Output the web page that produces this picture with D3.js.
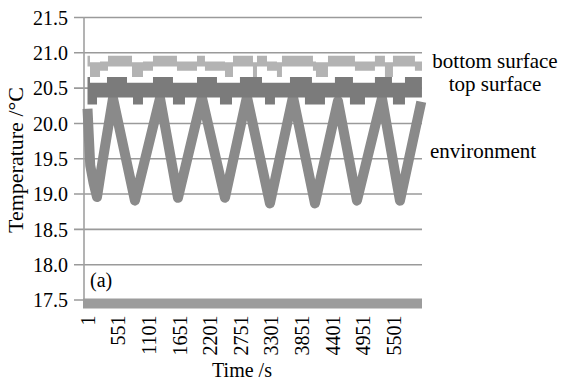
<html lang="en">
<head>
<meta charset="utf-8">
<title>Temperature</title>
<style>
    body { margin: 0; background-color: white; }
    svg { background-color: white; display: block; }
    text { font-family: "Liberation Serif", "Times New Roman", serif; fill: #000; }
    .axis text { font-size: 20px; }
    .axis path, .axis line { fill: none; }
    .label { font-size: 21px; }
</style>
</head>
<body>
<script src="https://cdnjs.cloudflare.com/ajax/libs/d3/7.8.5/d3.min.js"></script>
<script>
    // tick labels
    var yTicks = [17.5, 18.0, 18.5, 19.0, 19.5, 20.0, 20.5, 21.0, 21.5];
    var xTicks = [1, 551, 1101, 1651, 2201, 2751, 3301, 3851, 4401, 4951, 5501];

    // environment (time s, temperature)
    var envT = [1, 50, 110, 172, 260, 459, 854, 1304, 1627, 2058, 2472, 2867, 3280, 3694, 4089, 4502, 4844, 5293, 5617, 6000];
    var envV = [20.2, 19.4, 19.15, 18.95, 19.4, 20.35, 18.9, 20.35, 18.94, 20.36, 18.94, 20.37, 18.86, 20.37, 18.86, 20.31, 18.9, 20.35, 18.9, 20.3];

    // top surface, stepped band (upper / lower edge)
    var topT  = [1, 46, 172, 351, 711, 819, 998, 1178, 1537, 1753, 1969, 2328, 2382, 2598, 2741, 3137, 3191, 3370, 3640, 3909, 4035, 4269, 4448, 4718, 4772, 4988, 5167, 5473, 5491, 5707, 6012];
    var topHi = [20.65, 20.57, 20.57, 20.65, 20.57, 20.57, 20.57, 20.65, 20.57, 20.57, 20.65, 20.57, 20.57, 20.57, 20.65, 20.57, 20.57, 20.57, 20.65, 20.65, 20.57, 20.57, 20.65, 20.65, 20.57, 20.57, 20.65, 20.57, 20.57, 20.65, 20.65];
    var topLo = [20.26, 20.26, 20.36, 20.36, 20.36, 20.26, 20.36, 20.36, 20.26, 20.36, 20.36, 20.36, 20.26, 20.36, 20.36, 20.36, 20.26, 20.36, 20.36, 20.26, 20.26, 20.36, 20.36, 20.26, 20.26, 20.36, 20.36, 20.36, 20.26, 20.36, 20.36];

    // bottom surface, stepped band (upper / lower edge)
    var botT  = [1, 46, 226, 369, 801, 998, 1178, 1609, 1969, 2112, 2472, 2616, 2975, 3047, 3227, 3406, 3496, 4053, 4107, 4323, 4808, 5167, 5347, 5491, 5886, 6013];
    var botHi = [20.95, 20.86, 20.87, 20.95, 20.86, 20.87, 20.95, 20.87, 20.95, 20.87, 20.86, 20.95, 20.86, 20.95, 20.87, 20.86, 20.95, 20.87, 20.86, 20.95, 20.87, 20.95, 20.86, 20.95, 20.87, 20.87];
    var botLo = [20.80, 20.65, 20.74, 20.80, 20.65, 20.74, 20.80, 20.74, 20.80, 20.74, 20.65, 20.80, 20.65, 20.80, 20.74, 20.65, 20.80, 20.74, 20.65, 20.80, 20.74, 20.80, 20.65, 20.80, 20.74, 20.74];

    var fullwidth = 561, fullheight = 381;
    var left = 84, right = 422, gridLeft = 74;

    var svg = d3.select("body").append("svg")
        .attr("width", fullwidth)
        .attr("height", fullheight);

    var xScale = d3.scaleLinear().domain([-62, 6013]).range([left, right]);
    var yScale = d3.scaleLinear().domain([17.5, 21.5]).range([299.5, 17]);

    // grid lines + y labels
    var yAxis = d3.axisLeft(yScale)
        .tickValues(yTicks)
        .tickFormat(d3.format(".1f"))
        .tickSize(-(right - gridLeft))
        .tickPadding(6);

    var gy = svg.append("g")
        .attr("class", "y axis")
        .attr("transform", "translate(" + gridLeft + ",0)")
        .call(yAxis);
    gy.select(".domain").remove();
    gy.selectAll("line").attr("stroke", "#9a9a9a").attr("stroke-width", 1.6);
    gy.selectAll("text").attr("dy", "0.36em");

    // left axis line
    svg.append("line")
        .attr("x1", left).attr("x2", left)
        .attr("y1", yScale(21.5)).attr("y2", yScale(17.5))
        .attr("stroke", "#a0a0a0")
        .attr("stroke-width", 1.6);

    function band(T, hi, lo) {
        return T.map(function(t, i) { return { t: t, hi: hi[i], lo: lo[i] }; });
    }

    var area = d3.area()
        .curve(d3.curveStepAfter)
        .x(function(d) { return xScale(d.t); })
        .y0(function(d) { return yScale(d.lo); })
        .y1(function(d) { return yScale(d.hi); });

    // environment
    var envData = envT.map(function(t, i) { return { t: t, v: envV[i] }; });
    var line = d3.line()
        .x(function(d) { return xScale(d.t); })
        .y(function(d) { return yScale(d.v); });

    svg.append("path")
        .datum(envData)
        .attr("d", line)
        .attr("fill", "none")
        .attr("stroke", "#8a8a8a")
        .attr("stroke-width", 10)
        .attr("stroke-linejoin", "round");

    // top surface
    svg.append("path")
        .datum(band(topT, topHi, topLo))
        .attr("d", area)
        .attr("fill", "#7b7b7b");

    // bottom surface
    svg.append("path")
        .datum(band(botT, botHi, botLo))
        .attr("d", area)
        .attr("fill", "#b3b3b3");

    // thick bottom axis
    svg.append("line")
        .attr("x1", left - 1).attr("x2", right)
        .attr("y1", yScale(17.5) + 4).attr("y2", yScale(17.5) + 4)
        .attr("stroke", "#9c9c9c")
        .attr("stroke-width", 10);

    // x labels
    var xAxis = d3.axisBottom(xScale)
        .tickValues(xTicks)
        .tickFormat(d3.format("d"))
        .tickSize(0);

    var gx = svg.append("g")
        .attr("class", "x axis")
        .attr("transform", "translate(0," + (yScale(17.5) + 9) + ")")
        .call(xAxis);
    gx.select(".domain").remove();
    gx.selectAll("text")
        .attr("transform", "rotate(-90)")
        .attr("x", -7)
        .attr("y", 0)
        .attr("dy", "0.34em")
        .style("text-anchor", "end");

    // titles
    svg.append("text")
        .attr("class", "label")
        .attr("transform", "translate(23,160) rotate(-90)")
        .attr("text-anchor", "middle")
        .style("font-size", "22px")
        .text("Temperature /°C");

    svg.append("text")
        .attr("class", "label")
        .attr("x", 242).attr("y", 377)
        .attr("text-anchor", "middle")
        .style("font-size", "20px")
        .text("Time /s");

    svg.append("text")
        .attr("class", "label")
        .attr("x", 90).attr("y", 287)
        .style("font-size", "20px")
        .text("(a)");

    // series labels
    svg.append("text").attr("class", "label")
        .attr("x", 495).attr("y", 68)
        .attr("text-anchor", "middle")
        .text("bottom surface");
    svg.append("text").attr("class", "label")
        .attr("x", 495).attr("y", 91)
        .attr("text-anchor", "middle")
        .text("top surface");
    svg.append("text").attr("class", "label")
        .attr("x", 430).attr("y", 158)
        .text("environment");
</script>
</body>
</html>
